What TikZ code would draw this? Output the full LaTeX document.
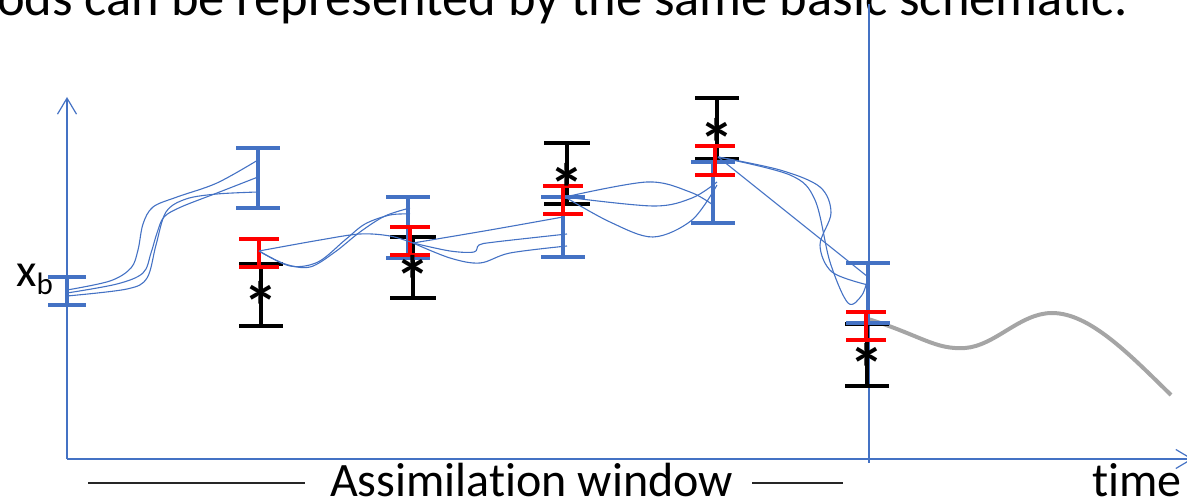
\documentclass[tikz,border=0pt]{standalone}
\usepackage{fontspec}
\setmainfont{Carlito}[Ligatures=NoCommon]
\usetikzlibrary{arrows.meta}
\definecolor{ensblue}{RGB}{68,114,196}
\definecolor{anared}{RGB}{255,0,0}
\definecolor{fcgrey}{RGB}{165,165,165}
\newcommand{\errbar}[5]{% style, x, top, bottom, half cap width
  \draw[#1] (#2-#5,#3) -- (#2+#5,#3) (#2,#3) -- (#2,#4) (#2-#5,#4) -- (#2+#5,#4);}
\begin{document}
\begin{tikzpicture}[x=1pt,y=-1pt,
  axisline/.style={draw=ensblue, line width=1.2pt},
  axistip/.style={-{Straight Barb[length=16pt,width=19pt,line width=1.2pt]}},
  bluebar/.style={draw=ensblue, line width=4pt},
  redbar/.style={draw=anared, line width=4pt},
  blackbar/.style={draw=black, line width=4pt},
  traj/.style={draw=ensblue, line width=1.1pt},
  fcst/.style={draw=fcgrey, line width=4pt},
  obsmark/.style={inner sep=0pt, anchor=base, font=\fontsize{70}{70}\selectfont\bfseries},
  label/.style={inner sep=0pt, anchor=base west, font=\fontsize{48}{48}\selectfont},
  rule/.style={draw=black!85, line width=1.3pt}]
\useasboundingbox (0,0) rectangle (1187,502);
\clip (0,0) rectangle (1187,502);

% heading line (cut at the top edge)
\node[inner sep=0pt, anchor=base west, font=\fontsize{52.5}{52.5}\selectfont] (head) at (-3,16)
  {ods can be represented by the same basic schematic.};

% axes and end of the assimilation window
\draw[axisline, axistip] (67,459) -- (67,97);
\draw[axisline, axistip] (67,459) -- (1193,459);
\draw[axisline] (869,4) -- (869,463);

% analysis points
\coordinate (a0) at (67,293);
\coordinate (a1) at (259,251);
\coordinate (a2) at (413,243);
\coordinate (a3) at (565,197);
\coordinate (a4) at (718,157);
\coordinate (a5) at (868,319);

% forecast beyond the window
\draw[fcst] (a5) .. controls (920,335) and (935,350) .. (965,348)
  .. controls (995,346) and (1020,313) .. (1052,313)
  .. controls (1090,313) and (1130,355) .. (1171,395);

% observations (black), background (blue), analysis (red)
\errbar{blackbar}{261}{264}{326}{22}
\errbar{blackbar}{413}{237}{298}{23}
\errbar{blackbar}{567}{143}{204}{23}
\errbar{blackbar}{717}{98}{159}{22}
\errbar{blackbar}{867}{324}{386}{22}

\errbar{bluebar}{67}{277}{305}{19}
\errbar{bluebar}{258}{148}{208}{22}
\errbar{bluebar}{408}{197}{258}{22}
\errbar{bluebar}{563}{197}{257}{22}
\errbar{bluebar}{713}{162}{223}{22}
\errbar{bluebar}{868}{263}{323}{22}

\errbar{redbar}{259}{239}{267}{20}
\errbar{redbar}{410}{227}{255}{20}
\errbar{redbar}{563}{186}{214}{20}
\errbar{redbar}{715}{146}{175}{20}
\errbar{redbar}{866}{312}{340}{20}

% ensemble trajectories
\draw[traj] plot[smooth, tension=0.55] coordinates {(67,290) (110,281) (131,268) (138,250) (143,224) (153,207) (177,197) (217,183) (258,160)};
\draw[traj] plot[smooth, tension=0.55] coordinates {(a0) (117,284) (143,273) (151,253) (157,233) (164,217) (181,207) (217,193) (258,177)};
\draw[traj] plot[smooth, tension=0.55] coordinates {(67,296) (127,289) (147,278) (156,245) (166,212) (186,199) (217,194) (258,192)};

\draw[traj] plot[smooth, tension=0.55] coordinates {(a1) (320,240) (360,234) (390,236) (413,243)};
\draw[traj] plot[smooth, tension=0.55] coordinates {(a1) (285,264) (310,267) (335,252) (360,232) (385,216) (410,208)};
\draw[traj] plot[smooth, tension=0.55] coordinates {(a1) (290,266) (318,262) (345,240) (365,224) (390,215) (410,214)};

\draw[traj] plot[smooth, tension=0.55] coordinates {(a2) (490,230) (563,217)};
\draw[traj] plot[smooth, tension=0.55] coordinates {(a2) (450,251) (474,252) (479,245) (495,242) (567,234)};
\draw[traj] plot[smooth, tension=0.55] coordinates {(a2) (450,258) (480,263) (510,253) (567,246)};

\draw[traj] plot[smooth, tension=0.55] coordinates {(a3) (647,182) (690,192) (713,205)};
\draw[traj] plot[smooth, tension=0.55] coordinates {(a3) (653,206) (692,198) (717,182)};
\draw[traj] plot[smooth, tension=0.55] coordinates {(a3) (610,222) (653,237) (692,220) (717,185)};

\draw[traj] (a4) -- (868,277);
\draw[traj] plot[smooth, tension=0.55] coordinates {(a4) (780,170) (820,187) (831,213) (820,245) (832,272) (868,285)};
\draw[traj] plot[smooth, tension=0.55] coordinates {(a4) (790,175) (815,200) (830,262) (848,303) (862,295) (868,277)};

% observation values
\node[obsmark] (o1) at (261,332) {*};
\node[obsmark] (o2) at (413,306) {*};
\node[obsmark] (o3) at (567,214) {*};
\node[obsmark] (o4) at (717,169) {*};
\node[obsmark] (o5) at (867,394) {*};

% background state label
\node[inner sep=0pt, anchor=base west] (xb) at (16,287)
  {\fontsize{47}{47}\selectfont x\raisebox{-8pt}{\fontsize{31}{31}\selectfont b}};

% time axis labels
\node[label] (win) at (330,497) {Assimilation window};
\node[label] (time) at (1092,497) {time};
\draw[rule] (88,483) -- (305,483);
\draw[rule] (752,483) -- (843,483);
\end{tikzpicture}
\end{document}
